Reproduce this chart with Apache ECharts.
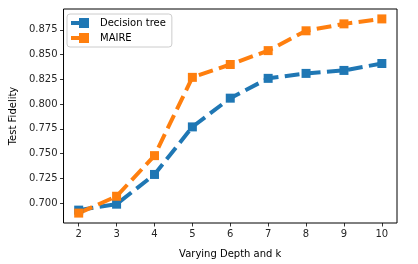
<!DOCTYPE html>
<html>
<head>
<meta charset="utf-8">
<script src="https://cdn.jsdelivr.net/npm/echarts@6/dist/echarts.min.js"></script>
<style>html,body{margin:0;padding:0;background:#fff}#c{width:418px;height:264px}</style>
</head>
<body>
<div id="c"></div>
<script>
const depths = [2, 3, 4, 5, 6, 7, 8, 9, 10];
const decisionTree = [0.693, 0.699, 0.729, 0.777, 0.806, 0.826, 0.831, 0.834, 0.841];
const maire = [0.690, 0.707, 0.748, 0.827, 0.840, 0.854, 0.874, 0.881, 0.886];
const yTicks = [0.700, 0.725, 0.750, 0.775, 0.800, 0.825, 0.850, 0.875];
const seriesNames = ['Decision tree', 'MAIRE'];

const font = 'DejaVu Sans';
const icon = 'path://M0,3h8v4h-8z M8,0h10v10h-10z';
function mk(name, vals, color) {
  return {
    name: name, type: 'line',
    data: depths.map((d, i) => [d, vals[i]]),
    symbol: 'rect', symbolSize: 9,
    lineStyle: { color: color, width: 4, type: [14.8, 6.4] },
    itemStyle: { color: color },
    animation: false
  };
}
const chart = echarts.init(document.getElementById('c'), null, { renderer: 'canvas' });
chart.setOption({
  animation: false,
  grid: { left: 62, right: 21, top: 9, bottom: 37, show: true, borderColor: '#000', borderWidth: 1, backgroundColor: 'transparent' },
  legend: {
    orient: 'vertical', left: 67, top: 14,
    padding: [4, 6, 4, 4], itemGap: 5,
    itemWidth: 18, itemHeight: 10,
    borderColor: '#cccccc', borderWidth: 1, borderRadius: 3,
    backgroundColor: 'rgba(255,255,255,0.8)',
    textStyle: { fontFamily: font, fontSize: 10, color: '#000', padding: [0, 0, 0, 6] },
    data: [
      { name: seriesNames[0], icon: icon, itemStyle: { color: '#1f77b4' } },
      { name: seriesNames[1], icon: icon, itemStyle: { color: '#ff7f0e' } }
    ]
  },
  xAxis: {
    type: 'value', min: 1.6, max: 10.4,
    name: 'Varying Depth and k', nameLocation: 'middle', nameGap: 26,
    nameTextStyle: { fontFamily: font, fontSize: 10, color: '#000' },
    axisLine: { show: false },
    axisTick: { show: true, inside: false, length: 3.5, lineStyle: { color: '#000', width: 0.8 }, customValues: depths },
    axisLabel: { fontFamily: font, fontSize: 10, color: '#262626', margin: 6, customValues: depths, formatter: v => String(v) },
    splitLine: { show: false }
  },
  yAxis: {
    type: 'value', min: 0.680, max: 0.896,
    name: 'Test Fidelity', nameLocation: 'middle', nameGap: 41,
    nameTextStyle: { fontFamily: font, fontSize: 10, color: '#000' },
    axisLine: { show: false },
    axisTick: { show: true, inside: false, length: 3.5, lineStyle: { color: '#000', width: 0.8 }, customValues: yTicks },
    axisLabel: { fontFamily: font, fontSize: 10, color: '#262626', margin: 6, customValues: yTicks, formatter: v => v.toFixed(3) },
    splitLine: { show: false }
  },
  series: [mk(seriesNames[0], decisionTree, '#1f77b4'), mk(seriesNames[1], maire, '#ff7f0e')]
});
</script>
</body>
</html>
